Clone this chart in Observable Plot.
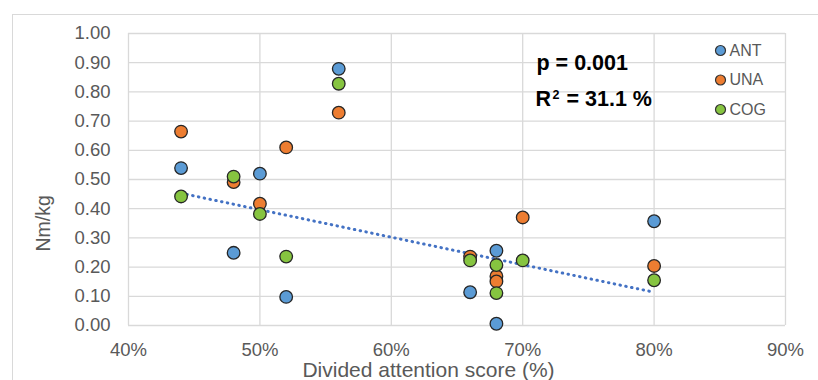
<!DOCTYPE html>
<html>
<head>
<meta charset="utf-8">
<script src="https://cdn.jsdelivr.net/npm/d3@7"></script>
<script src="https://cdn.jsdelivr.net/npm/@observablehq/plot@0.6"></script>
<style>
  html, body { margin: 0; padding: 0; background: #fff; width: 818px; height: 380px; overflow: hidden; }
  #wrap { position: relative; width: 818px; height: 380px; }
  #outer { position: absolute; left: 12px; top: 14px; width: 900px; height: 500px; border: 1.3px solid #d9d9d9; box-sizing: border-box; }
  #chart { position: absolute; left: 0; top: 0; }
</style>
</head>
<body>
<div id="wrap"><div id="outer"></div><div id="chart"></div></div>
<script>
// Divided attention score (%) per participant
const scores = [44, 48, 50, 52, 56, 66, 68, 68, 70, 80];
// Nm/kg per group
const ANT = [0.539, 0.249, 0.520, 0.098, 0.879, 0.114, 0.256, 0.006, null, 0.357];
const UNA = [0.664, 0.491, 0.417, 0.610, 0.729, 0.236, 0.169, 0.151, 0.370, 0.204];
const COG = [0.442, 0.510, 0.382, 0.236, 0.828, 0.223, 0.207, 0.111, 0.223, 0.155];
const groups = ["ANT", "UNA", "COG"];
const groupColors = ["#5b9bd5", "#ed7d31", "#86c440"];
// Linear trend
const trendX = [44, 80];
const trendY = [0.453, 0.114];
// Tick labels
const xTicks = [40, 50, 60, 70, 80, 90];
const yTicks = [0, 0.1, 0.2, 0.3, 0.4, 0.5, 0.6, 0.7, 0.8, 0.9, 1.0];
// Annotation texts
const pText = "p = 0.001";
const r2Base = "R";
const r2Sup = "2";
const r2Value = "= 31.1 %";
const xTitle = "Divided attention score (%)";
const yTitle = "Nm/kg";

const series = {ANT, UNA, COG};
const points = [];
groups.forEach((g) => {
  series[g].forEach((v, i) => {
    if (v != null) points.push({group: g, x: scores[i], y: v});
  });
});
const trend = trendX.map((x, i) => ({x, y: trendY[i]}));
const colorOf = (g) => groupColors[groups.indexOf(g)];

const legendMarks = [];
groups.forEach((g, i) => {
  legendMarks.push(Plot.dot([g], {frameAnchor: "top-left", dx: 592, dy: 17 + i * 29.5, r: 5, fill: groupColors[i], stroke: "#333", strokeWidth: 1.2}));
  legendMarks.push(Plot.text([g], {frameAnchor: "top-left", dx: 601, dy: 17 + i * 29.5, text: (d) => d, textAnchor: "start", lineAnchor: "middle", fontSize: 16, fill: "#595959"}));
});

const annoStyle = {frameAnchor: "top-left", text: (d) => d, textAnchor: "start", lineAnchor: "top", fontWeight: "bold", fill: "#000"};

const chart = Plot.plot({
  width: 818,
  height: 380,
  marginLeft: 128,
  marginRight: 33,
  marginTop: 33,
  marginBottom: 55,
  style: {fontFamily: "'Liberation Sans', Arial, sans-serif", background: "transparent", overflow: "visible"},
  x: {domain: [40, 90]},
  y: {domain: [0, 1]},
  marks: [
    Plot.gridX(xTicks, {stroke: "#d9d9d9", strokeOpacity: 1, strokeWidth: 1.3}),
    Plot.gridY(yTicks, {stroke: "#d9d9d9", strokeOpacity: 1, strokeWidth: 1.3}),
    Plot.axisX(xTicks, {tickSize: 0, tickPadding: 17, tickFormat: (d) => d + "%", fontSize: 18.5, color: "#595959", label: null}),
    Plot.axisY(yTicks, {tickSize: 0, tickPadding: 18, tickFormat: d3.format(".2f"), fontSize: 18.5, color: "#595959", label: null}),
    Plot.line(trend, {x: "x", y: "y", stroke: "#4472c4", strokeWidth: 3, strokeDasharray: "0.5,5.4", strokeLinecap: "round"}),
    Plot.dot(points, {x: "x", y: "y", r: 6.3, fill: (d) => colorOf(d.group), stroke: "#262626", strokeWidth: 1.3}),
    Plot.text([pText], {...annoStyle, dx: 408, dy: 21, fontSize: 21.5}),
    Plot.text([r2Base], {...annoStyle, dx: 407, dy: 57.5, fontSize: 21.5}),
    Plot.text([r2Sup], {...annoStyle, dx: 424, dy: 57, fontSize: 12.5}),
    Plot.text([r2Value], {...annoStyle, dx: 438, dy: 57.5, fontSize: 21.5}),
    Plot.text([xTitle], {frameAnchor: "bottom", dx: -28.5, dy: 44.6, text: (d) => d, lineAnchor: "middle", fontSize: 21, fill: "#595959"}),
    Plot.text([yTitle], {frameAnchor: "left", dx: -84.5, dy: 72, rotate: -90, text: (d) => d, lineAnchor: "middle", fontSize: 19.5, fill: "#595959"}),
    ...legendMarks
  ]
});
document.getElementById("chart").appendChild(chart);
</script>
</body>
</html>
